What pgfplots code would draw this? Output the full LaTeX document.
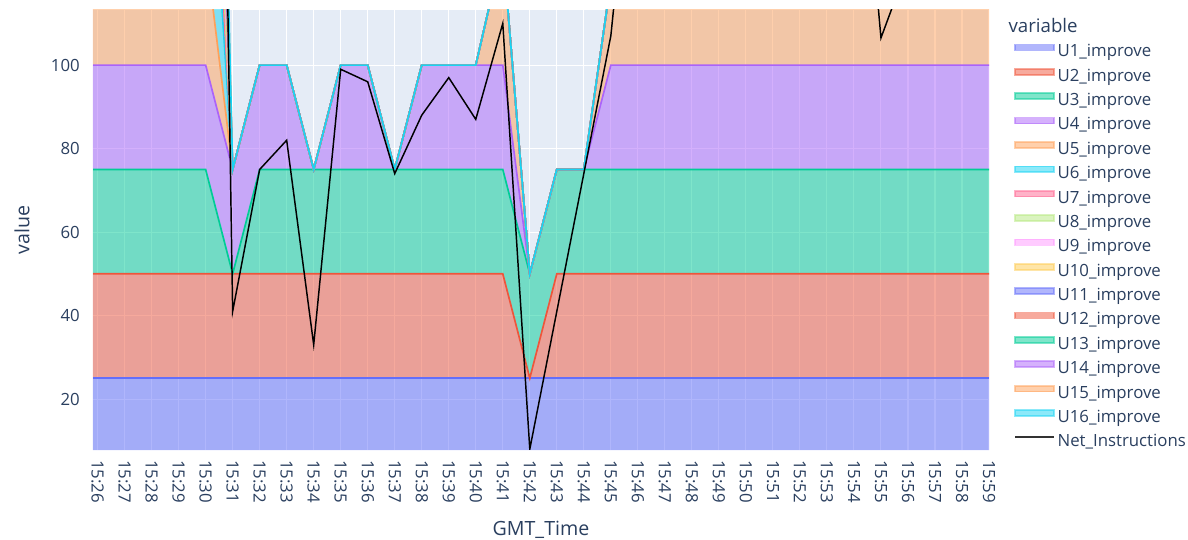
\documentclass[border=0pt]{standalone}
\usepackage{fontspec}
\setmainfont{Open Sans}
\usepackage{pgfplots}
\pgfplotsset{compat=1.18}
\usepackage{pgfplotstable}

\definecolor{c1}{HTML}{636EFA}
\definecolor{c2}{HTML}{EF553B}
\definecolor{c3}{HTML}{00CC96}
\definecolor{c4}{HTML}{AB63FA}
\definecolor{c5}{HTML}{FFA15A}
\definecolor{c6}{HTML}{19D3F3}
\definecolor{c7}{HTML}{FF6692}
\definecolor{c8}{HTML}{B6E880}
\definecolor{c9}{HTML}{FF97FF}
\definecolor{c10}{HTML}{FECB52}
\definecolor{bg}{HTML}{E5ECF6}
\definecolor{fg}{HTML}{2A3F5F}

\pgfplotsset{
  geom/.style={at={(69.75pt,66.75pt)}, anchor=south west,
    scale only axis, width=672pt, height=330pt,
    xmin=-0.17, xmax=33, ymin=7.8, ymax=113.2},
  ar/.style={fill=#1, fill opacity=0.5, draw=none, mark=none},
  ln/.style={draw=#1, line width=1.25pt, mark=none,
    legend image code/.code={\fill[#1, opacity=0.5] (0pt,1.7pt) rectangle (29pt,6.1pt);}},
}

\pgfplotstableread{
x U1 U2 U3 U4 U5 U6 U7 U8 U9 U10 U11 U12 U13 U14 U15 U16 Net
-0.17 25 25 25 25 28 45 20 15 15 15 20 20 15 15 20 20 450
0 25 25 25 25 28 45 20 15 15 15 20 20 15 15 20 20 450
1 25 25 25 25 28 45 20 15 15 15 20 20 15 15 20 20 460
2 25 25 25 25 28 45 20 15 15 15 20 20 15 15 20 20 440
3 25 25 25 25 28 45 20 15 15 15 20 20 15 15 20 20 455
4 25 25 25 25 28 45 20 15 15 15 20 20 15 15 20 20 450
5 25 25 0 25 0 0 0 0 0 0 0 0 0 0 0 0 41
6 25 25 25 25 0 0 0 0 0 0 0 0 0 0 0 0 75
7 25 25 25 25 0 0 0 0 0 0 0 0 0 0 0 0 82
8 25 25 25 0 0 0 0 0 0 0 0 0 0 0 0 0 33
9 25 25 25 25 0 0 0 0 0 0 0 0 0 0 0 0 99
10 25 25 25 25 0 0 0 0 0 0 0 0 0 0 0 0 96
11 25 25 25 0 0 0 0 0 0 0 0 0 0 0 0 0 74
12 25 25 25 25 0 0 0 0 0 0 0 0 0 0 0 0 88
13 25 25 25 25 0 0 0 0 0 0 0 0 0 0 0 0 97
14 25 25 25 25 0 0 0 0 0 0 0 0 0 0 0 0 87
15 25 25 25 25 28 0 0 0 0 0 0 0 0 0 0 0 110
16 25 0 25 0 0 0 0 0 0 0 0 0 0 0 0 0 8
17 25 25 25 0 0 0 0 0 0 0 0 0 0 0 0 0 41
18 25 25 25 0 0 0 0 0 0 0 0 0 0 0 0 0 74
19 25 25 25 25 20 0 0 0 0 0 0 0 0 0 0 0 107
20 25 25 25 25 25 0 0 0 0 0 0 0 0 0 0 0 170
21 25 25 25 25 25 0 0 0 0 0 0 0 0 0 0 0 190
22 25 25 25 25 25 0 0 0 0 0 0 0 0 0 0 0 200
23 25 25 25 25 25 0 0 0 0 0 0 0 0 0 0 0 180
24 25 25 25 25 25 0 0 0 0 0 0 0 0 0 0 0 190
25 25 25 25 25 25 0 0 0 0 0 0 0 0 0 0 0 200
26 25 25 25 25 25 0 0 0 0 0 0 0 0 0 0 0 190
27 25 25 25 25 25 0 0 0 0 0 0 0 0 0 0 0 185
28 25 25 25 25 25 0 0 0 0 0 0 0 0 0 0 0 180
29 25 25 25 25 25 0 0 0 0 0 0 0 0 0 0 0 106.5
30 25 25 25 25 25 0 0 0 0 0 0 0 0 0 0 0 124
31 25 25 25 25 25 0 0 0 0 0 0 0 0 0 0 0 150
32 25 25 25 25 25 0 0 0 0 0 0 0 0 0 0 0 160
33 25 25 25 25 25 0 0 0 0 0 0 0 0 0 0 0 170
}\data

\begin{document}
\begin{tikzpicture}
\useasboundingbox (0,0) rectangle (891pt,404.25pt);
% ---- stacked areas, background, grid, ticks, labels
\begin{axis}[geom,
  stack plots=y,
  axis background/.style={fill=bg},
  axis line style={draw=none},
  major tick length=0pt,
  grid=major, major grid style={white, line width=0.8pt},
  xtick={0,...,33},
  xticklabels={15:26,15:27,15:28,15:29,15:30,15:31,15:32,15:33,15:34,15:35,15:36,15:37,15:38,15:39,15:40,15:41,15:42,15:43,15:44,15:45,15:46,15:47,15:48,15:49,15:50,15:51,15:52,15:53,15:54,15:55,15:56,15:57,15:58,15:59},
  ytick={20,40,60,80,100},
  /pgf/number format/assume math mode=true,
  ticklabel style={font=\fontsize{12.6}{15}\selectfont, text=fg},
  xticklabel style={yshift=-7.5pt, rotate=-90, anchor=west, inner sep=0pt},
  yticklabel style={anchor=east, inner sep=0pt, xshift=-9.75pt},
  xlabel={GMT\_Time}, ylabel={value},
  label style={font=\fontsize{14.7}{17}\selectfont, text=fg},
  xlabel style={at={(axis description cs:0.5,-0.1818)}, anchor=center},
  ylabel style={at={(axis description cs:-0.0792,0.5)}, anchor=center},
]
\addplot[ar=c1] table[x=x, y=U1]{\data} \closedcycle;
\addplot[ar=c2] table[x=x, y=U2]{\data} \closedcycle;
\addplot[ar=c3] table[x=x, y=U3]{\data} \closedcycle;
\addplot[ar=c4] table[x=x, y=U4]{\data} \closedcycle;
\addplot[ar=c5] table[x=x, y=U5]{\data} \closedcycle;
\addplot[ar=c6] table[x=x, y=U6]{\data} \closedcycle;
\addplot[ar=c7] table[x=x, y=U7]{\data} \closedcycle;
\addplot[ar=c8] table[x=x, y=U8]{\data} \closedcycle;
\addplot[ar=c9] table[x=x, y=U9]{\data} \closedcycle;
\addplot[ar=c10] table[x=x, y=U10]{\data} \closedcycle;
\addplot[ar=c1] table[x=x, y=U11]{\data} \closedcycle;
\addplot[ar=c2] table[x=x, y=U12]{\data} \closedcycle;
\addplot[ar=c3] table[x=x, y=U13]{\data} \closedcycle;
\addplot[ar=c4] table[x=x, y=U14]{\data} \closedcycle;
\addplot[ar=c5] table[x=x, y=U15]{\data} \closedcycle;
\addplot[ar=c6] table[x=x, y=U16]{\data} \closedcycle;
\end{axis}
% ---- edge lines of the stack (running sums, drawn in trace order), the net line and the legend
\begin{axis}[geom,
  hide axis,
  legend style={at={(axis description cs:1.0234,0.9843)}, anchor=north west,
    draw=none, fill=none, font=\fontsize{12.6}{15}\selectfont, text=fg,
    row sep=5.2pt, column sep=2.25pt,
    nodes={inner sep=0pt, text height=9.5pt, text depth=3.2pt}},
  legend cell align=left,
]
\addlegendimage{empty legend}
\addlegendentry{\hspace*{-36.75pt}\fontsize{14}{16}\selectfont variable}
\addplot[ln=c1] table[x=x, y expr=\thisrow{U1}]{\data};
\addlegendentry{U1\_improve}
\addplot[ln=c2] table[x=x, y expr=\thisrow{U1}+\thisrow{U2}]{\data};
\addlegendentry{U2\_improve}
\addplot[ln=c3] table[x=x, y expr=\thisrow{U1}+\thisrow{U2}+\thisrow{U3}]{\data};
\addlegendentry{U3\_improve}
\addplot[ln=c4] table[x=x, y expr=\thisrow{U1}+\thisrow{U2}+\thisrow{U3}+\thisrow{U4}]{\data};
\addlegendentry{U4\_improve}
\addplot[ln=c5] table[x=x, y expr=\thisrow{U1}+\thisrow{U2}+\thisrow{U3}+\thisrow{U4}+\thisrow{U5}]{\data};
\addlegendentry{U5\_improve}
\addplot[ln=c6] table[x=x, y expr=\thisrow{U1}+\thisrow{U2}+\thisrow{U3}+\thisrow{U4}+\thisrow{U5}+\thisrow{U6}]{\data};
\addlegendentry{U6\_improve}
\addplot[ln=c7] table[x=x, y expr=\thisrow{U1}+\thisrow{U2}+\thisrow{U3}+\thisrow{U4}+\thisrow{U5}+\thisrow{U6}+\thisrow{U7}]{\data};
\addlegendentry{U7\_improve}
\addplot[ln=c8] table[x=x, y expr=\thisrow{U1}+\thisrow{U2}+\thisrow{U3}+\thisrow{U4}+\thisrow{U5}+\thisrow{U6}+\thisrow{U7}+\thisrow{U8}]{\data};
\addlegendentry{U8\_improve}
\addplot[ln=c9] table[x=x, y expr=\thisrow{U1}+\thisrow{U2}+\thisrow{U3}+\thisrow{U4}+\thisrow{U5}+\thisrow{U6}+\thisrow{U7}+\thisrow{U8}+\thisrow{U9}]{\data};
\addlegendentry{U9\_improve}
\addplot[ln=c10] table[x=x, y expr=\thisrow{U1}+\thisrow{U2}+\thisrow{U3}+\thisrow{U4}+\thisrow{U5}+\thisrow{U6}+\thisrow{U7}+\thisrow{U8}+\thisrow{U9}+\thisrow{U10}]{\data};
\addlegendentry{U10\_improve}
\addplot[ln=c1] table[x=x, y expr=\thisrow{U1}+\thisrow{U2}+\thisrow{U3}+\thisrow{U4}+\thisrow{U5}+\thisrow{U6}+\thisrow{U7}+\thisrow{U8}+\thisrow{U9}+\thisrow{U10}+\thisrow{U11}]{\data};
\addlegendentry{U11\_improve}
\addplot[ln=c2] table[x=x, y expr=\thisrow{U1}+\thisrow{U2}+\thisrow{U3}+\thisrow{U4}+\thisrow{U5}+\thisrow{U6}+\thisrow{U7}+\thisrow{U8}+\thisrow{U9}+\thisrow{U10}+\thisrow{U11}+\thisrow{U12}]{\data};
\addlegendentry{U12\_improve}
\addplot[ln=c3] table[x=x, y expr=\thisrow{U1}+\thisrow{U2}+\thisrow{U3}+\thisrow{U4}+\thisrow{U5}+\thisrow{U6}+\thisrow{U7}+\thisrow{U8}+\thisrow{U9}+\thisrow{U10}+\thisrow{U11}+\thisrow{U12}+\thisrow{U13}]{\data};
\addlegendentry{U13\_improve}
\addplot[ln=c4] table[x=x, y expr=\thisrow{U1}+\thisrow{U2}+\thisrow{U3}+\thisrow{U4}+\thisrow{U5}+\thisrow{U6}+\thisrow{U7}+\thisrow{U8}+\thisrow{U9}+\thisrow{U10}+\thisrow{U11}+\thisrow{U12}+\thisrow{U13}+\thisrow{U14}]{\data};
\addlegendentry{U14\_improve}
\addplot[ln=c5] table[x=x, y expr=\thisrow{U1}+\thisrow{U2}+\thisrow{U3}+\thisrow{U4}+\thisrow{U5}+\thisrow{U6}+\thisrow{U7}+\thisrow{U8}+\thisrow{U9}+\thisrow{U10}+\thisrow{U11}+\thisrow{U12}+\thisrow{U13}+\thisrow{U14}+\thisrow{U15}]{\data};
\addlegendentry{U15\_improve}
\addplot[ln=c6] table[x=x, y expr=\thisrow{U1}+\thisrow{U2}+\thisrow{U3}+\thisrow{U4}+\thisrow{U5}+\thisrow{U6}+\thisrow{U7}+\thisrow{U8}+\thisrow{U9}+\thisrow{U10}+\thisrow{U11}+\thisrow{U12}+\thisrow{U13}+\thisrow{U14}+\thisrow{U15}+\thisrow{U16}]{\data};
\addlegendentry{U16\_improve}
\addplot[black, line width=1.1pt, mark=none,
  legend image code/.code={\draw[black!80, line width=1.2pt] (0pt,3.9pt) -- (29pt,3.9pt);}]
  table[x=x, y=Net]{\data};
\addlegendentry{Net\_Instructions}
\end{axis}
\end{tikzpicture}
\end{document}
